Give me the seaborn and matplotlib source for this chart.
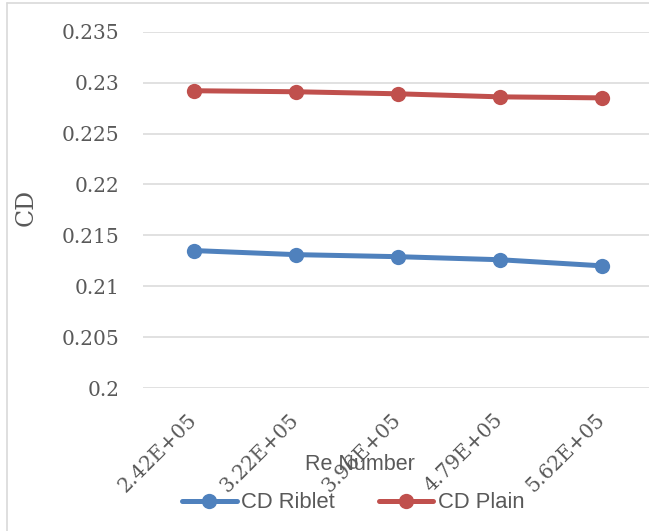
import matplotlib
matplotlib.use("Agg")
import matplotlib.pyplot as plt
from matplotlib.lines import Line2D
import seaborn as sns
import pandas as pd

re_labels = ["2.42E+05", "3.22E+05", "3.96E+05", "4.79E+05", "5.62E+05"]
cd_riblet = [0.2135, 0.2131, 0.2129, 0.2126, 0.2120]
cd_plain = [0.2292, 0.2291, 0.2289, 0.2286, 0.2285]
series_names = ["CD Riblet", "CD Plain"]
yticks = [0.2, 0.205, 0.21, 0.215, 0.22, 0.225, 0.23, 0.235]
ytick_labels = ["0.2", "0.205", "0.21", "0.215", "0.22", "0.225", "0.23", "0.235"]

df = pd.DataFrame({
    "Re": re_labels * 2,
    "CD": cd_riblet + cd_plain,
    "Series": [series_names[0]] * len(re_labels) + [series_names[1]] * len(re_labels),
})

sns.set_theme(style="white")
plt.rcParams["font.family"] = ["DejaVu Serif"]

fig = plt.figure(figsize=(6.49, 5.31), dpi=100)
ax = fig.add_axes([143 / 649, 143 / 531, 510 / 649, 356.3 / 531])

palette = {"CD Riblet": "#4F81BD", "CD Plain": "#C0504D"}
sns.lineplot(data=df, x="Re", y="CD", hue="Series", palette=palette, sort=False,
             marker="o", markersize=11, markeredgewidth=0, linewidth=3.6,
             ax=ax, legend=False, zorder=3)

ax.set_xlim(-0.5, len(re_labels) - 0.5)
ax.set_ylim(0.2, 0.235)
ax.set_yticks(yticks)
ax.set_yticklabels(ytick_labels)
ax.set_xticks(range(len(re_labels)))
ax.set_xticklabels(re_labels)
ax.grid(axis="y", color="#D9D9D9", linewidth=1.1)
ax.grid(axis="x", visible=False)
for s in ax.spines.values():
    s.set_visible(False)
ax.tick_params(axis="y", length=0, pad=17, labelsize=14.5, labelcolor="#595959")
ax.tick_params(axis="x", length=0, pad=21, labelsize=14.5, labelcolor="#595959")
for lab in ax.get_xticklabels():
    lab.set_rotation(45)
    lab.set_rotation_mode("anchor")
    lab.set_ha("right")
    lab.set_va("center")

ax.set_ylabel("CD", fontsize=17, color="#595959", family="DejaVu Serif")
ax.yaxis.set_label_coords(-0.206, 0.508)
ax.set_xlabel("Re Number", fontsize=15.5, color="#595959", family="Liberation Sans")
ax.xaxis.set_label_coords(0.4255, -0.216)
ax.xaxis.label.set_va("center")

handles = [Line2D([], [], color=palette[n], linewidth=3.6, marker="o", markersize=11,
                  markeredgewidth=0) for n in series_names]
leg = fig.legend(handles, series_names, loc="center", bbox_to_anchor=(353 / 649, 1 - 503 / 531),
                 ncol=2, frameon=False, handlelength=2.5, handletextpad=0.2,
                 columnspacing=2.0, prop={"family": "Liberation Sans", "size": 15.8})
for t in leg.get_texts():
    t.set_color("#595959")

# chart border (left and top edges visible)
fig.add_artist(Line2D([7 / 649, 7 / 649], [0, 1 - 3 / 531], transform=fig.transFigure,
                      color="#D9D9D9", linewidth=1.2))
fig.add_artist(Line2D([7 / 649, 1], [1 - 3 / 531, 1 - 3 / 531], transform=fig.transFigure,
                      color="#D9D9D9", linewidth=1.2))

fig.savefig("out.png", dpi=100)
